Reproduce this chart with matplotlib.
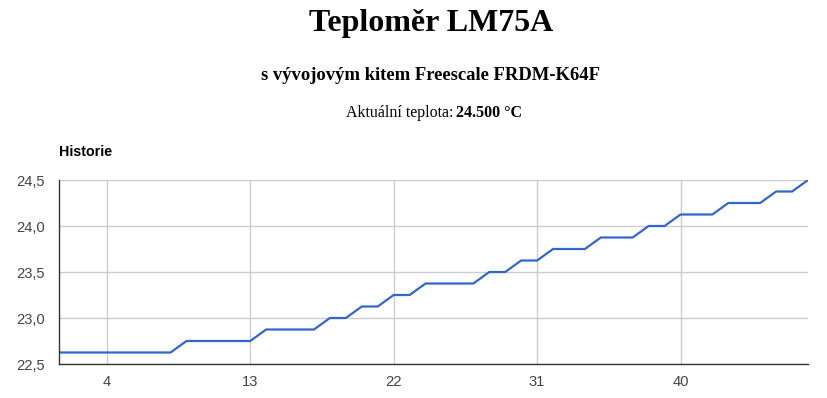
import matplotlib
matplotlib.use("Agg")
import matplotlib.pyplot as plt
from matplotlib.ticker import FuncFormatter

# temperature history (LM75A, 0.125 C steps)
x = list(range(1, 49))
temp = ([22.625] * 8 + [22.75] * 5 + [22.875] * 4 + [23.0] * 2 + [23.125] * 2 +
        [23.25] * 2 + [23.375] * 4 + [23.5] * 2 + [23.625] * 2 + [23.75] * 3 +
        [23.875] * 3 + [24.0] * 2 + [24.125] * 3 + [24.25] * 3 + [24.375] * 2 + [24.5])
xticks = [4, 13, 22, 31, 40]
yticks = [22.5, 23.0, 23.5, 24.0, 24.5]

W, H = 828, 398
fig = plt.figure(figsize=(W / 100, H / 100), dpi=100)
fig.patch.set_facecolor("white")

serif = "Liberation Serif"
sans = "Liberation Sans"

fig.text(431 / W, 1 - 24 / H, "Teploměr LM75A", family=serif, weight="bold",
         fontsize=23, ha="center", va="center")
fig.text(431 / W, 1 - 75 / H, "s vývojovým kitem Freescale FRDM-K64F", family=serif,
         weight="bold", fontsize=13.4, ha="center", va="center")
fig.text(453 / W, 1 - 113 / H, "Aktuální teplota:", family=serif, fontsize=11.5,
         ha="right", va="center")
fig.text(456 / W, 1 - 113 / H, "24.500 °C", family=serif, weight="bold", fontsize=11.5,
         ha="left", va="center")
fig.text(59 / W, 1 - 152 / H, "Historie", family=sans, weight="bold", fontsize=10.3,
         ha="left", va="center")

ax = fig.add_axes([59 / W, 1 - 364 / H, (808 - 59) / W, (364 - 180) / H])
ax.plot(x, temp, color="#3366cc", lw=1.6, solid_joinstyle="round", zorder=3)
ax.set_xlim(1, 48)
ax.set_ylim(22.5, 24.5)
ax.set_xticks(xticks)
ax.set_yticks(yticks)
ax.yaxis.set_major_formatter(FuncFormatter(lambda v, p: f"{v:.1f}".replace(".", ",")))
ax.grid(True, color="#cccccc", lw=1)
ax.set_axisbelow(True)
for s in ["top", "right"]:
    ax.spines[s].set_visible(False)
for s in ["left", "bottom"]:
    ax.spines[s].set_color("#333333")
    ax.spines[s].set_linewidth(1)
    ax.spines[s].set_zorder(4)
ax.tick_params(length=0, labelsize=10.6, colors="#444444")
ax.tick_params(axis="y", pad=10)
ax.tick_params(axis="x", pad=8)
for lab in ax.get_xticklabels() + ax.get_yticklabels():
    lab.set_family(sans)

fig.savefig("out.png", dpi=100, facecolor="white")
